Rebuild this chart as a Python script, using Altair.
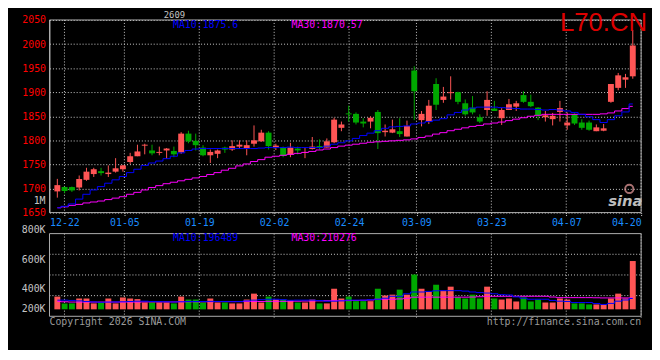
import json
import pandas as pd
import altair as alt

# ---------------- data ----------------
OPEN = [1694, 1703, 1703, 1702, 1718, 1730, 1736, 1730, 1735, 1740,
        1755, 1767, 1789, 1779, 1774, 1779, 1778, 1775, 1814, 1799,
        1785, 1769, 1772, 1785, 1781, 1787, 1783, 1793, 1798, 1816,
        1786, 1785, 1770, 1783, 1774, 1782, 1788, 1785, 1796, 1826,
        1856, 1855, 1839, 1839, 1859, 1817, 1816, 1819, 1808, 1945,
        1842, 1839, 1917, 1884, 1898, 1900, 1877, 1868, 1848, 1863,
        1866, 1846, 1863, 1870, 1894, 1880, 1868, 1848, 1844, 1859,
        1831, 1854, 1837, 1837, 1819, 1820, 1880, 1909, 1926, 1933]
HIGH = [1720, 1704, 1704, 1727, 1743, 1743, 1743, 1748, 1763, 1749,
        1774, 1791, 1793, 1791, 1787, 1784, 1787, 1817, 1820, 1814,
        1790, 1781, 1781, 1787, 1800, 1800, 1800, 1831, 1822, 1819,
        1793, 1787, 1795, 1787, 1785, 1807, 1802, 1804, 1847, 1839,
        1872, 1858, 1846, 1850, 1863, 1833, 1843, 1846, 1841, 1954,
        1861, 1884, 1929, 1911, 1933, 1901, 1885, 1892, 1854, 1902,
        1882, 1867, 1886, 1882, 1902, 1895, 1869, 1861, 1857, 1882,
        1858, 1856, 1844, 1841, 1833, 1834, 1917, 1940, 1938, 2029]
LOW = [1681, 1690, 1693, 1696, 1716, 1724, 1727, 1724, 1733, 1735,
       1751, 1767, 1771, 1769, 1769, 1762, 1765, 1772, 1794, 1779,
       1767, 1753, 1763, 1774, 1778, 1783, 1769, 1787, 1797, 1781,
       1780, 1765, 1765, 1771, 1763, 1781, 1781, 1785, 1794, 1819,
       1839, 1833, 1827, 1825, 1782, 1808, 1815, 1807, 1808, 1842,
       1829, 1834, 1863, 1878, 1885, 1875, 1851, 1854, 1836, 1851,
       1861, 1832, 1863, 1861, 1878, 1869, 1842, 1839, 1831, 1839,
       1822, 1832, 1822, 1820, 1819, 1819, 1878, 1904, 1909, 1928]
CLOSE = [1707, 1695, 1696, 1720, 1735, 1740, 1732, 1733, 1742, 1748,
         1767, 1777, 1791, 1773, 1776, 1783, 1771, 1814, 1798, 1790,
         1769, 1776, 1779, 1781, 1788, 1791, 1790, 1800, 1816, 1788,
         1789, 1768, 1785, 1779, 1776, 1787, 1785, 1798, 1843, 1833,
         1854, 1837, 1835, 1847, 1815, 1820, 1823, 1813, 1830, 1902,
         1855, 1872, 1874, 1891, 1900, 1880, 1854, 1858, 1839, 1884,
         1861, 1863, 1875, 1877, 1880, 1871, 1852, 1852, 1851, 1867,
         1837, 1835, 1826, 1822, 1827, 1825, 1917, 1935, 1931, 1997]
MA10 = [1660, 1663, 1668, 1678, 1688, 1697, 1704, 1711, 1718, 1725,
        1733, 1740, 1748, 1753, 1757, 1762, 1767, 1774, 1779, 1782,
        1783, 1783, 1783, 1783, 1783, 1783, 1783, 1783, 1784, 1785,
        1785, 1785, 1786, 1785, 1785, 1785, 1785, 1788, 1792, 1795,
        1799, 1804, 1810, 1815, 1820, 1825, 1828, 1829, 1830, 1834,
        1836, 1839, 1842, 1845, 1853, 1858, 1863, 1867, 1869, 1869,
        1869, 1868, 1867, 1866, 1865, 1865, 1864, 1863, 1864, 1863,
        1861, 1858, 1854, 1849, 1843, 1837, 1843, 1851, 1859, 1875.6]
MA30 = [1660, 1662, 1665, 1667, 1670, 1672, 1674, 1677, 1680, 1683,
        1688, 1692, 1697, 1702, 1706, 1710, 1713, 1716, 1719, 1722,
        1725, 1729, 1733, 1738, 1742, 1747, 1751, 1756, 1760, 1765,
        1767, 1769, 1771, 1773, 1775, 1777, 1780, 1782, 1785, 1788,
        1790, 1792, 1794, 1796, 1797, 1798, 1799, 1800, 1801, 1803,
        1806, 1809, 1813, 1816, 1820, 1823, 1826, 1829, 1831, 1834,
        1836, 1838, 1841, 1844, 1847, 1850, 1852, 1854, 1854, 1854,
        1854, 1854, 1854, 1854, 1854, 1855, 1857, 1861, 1866, 1870.57]
VOLUME_K = [351, 305, 305, 338, 338, 305, 311, 338, 305, 345,
            338, 334, 311, 311, 311, 311, 305, 351, 331, 331,
            311, 338, 311, 311, 305, 305, 331, 371, 311, 351,
            331, 331, 324, 311, 311, 331, 305, 305, 404, 338,
            351, 320, 320, 320, 404, 358, 364, 398, 364, 500,
            404, 382, 431, 391, 418, 345, 338, 364, 338, 418,
            338, 331, 338, 318, 345, 318, 331, 311, 311, 338,
            331, 305, 305, 298, 298, 298, 338, 371, 338, 591]
VMA10 = [327, 327, 325, 322, 318, 315, 313, 314, 315, 316,
         318, 320, 320, 318, 317, 316, 315, 316, 318, 318,
         318, 319, 318, 318, 317, 318, 322, 327, 330, 333,
         333, 330, 326, 327, 327, 327, 324, 320, 320, 322,
         327, 327, 327, 330, 333, 340, 353, 353, 370, 382,
         382, 386, 390, 391, 391, 391, 388, 382, 378, 375,
         370, 364, 362, 349, 340, 333, 333, 333, 325, 320,
         318, 311, 311, 311, 304, 298, 305, 320, 328, 338]
VMA30 = [318, 316, 314, 314, 314, 314, 314, 314, 314, 314,
         314, 314, 315, 315, 315, 315, 315, 316, 316, 316,
         316, 316, 317, 317, 317, 317, 318, 318, 318, 319,
         319, 319, 320, 320, 321, 321, 322, 323, 324, 324,
         324, 325, 326, 328, 333, 333, 333, 335, 340, 347,
         347, 347, 347, 347, 347, 347, 347, 348, 350, 353,
         353, 353, 353, 353, 353, 353, 353, 353, 348, 344,
         344, 344, 344, 344, 343, 342, 342, 342, 342, 342]

DATE_POS = [2, 10, 20, 30, 40, 49, 59, 69, 79]
DATE_LABELS = ["12-22", "01-05", "01-19", "02-02", "02-24",
               "03-09", "03-23", "04-07", "04-20"]
PRICE_TICKS = [1650, 1700, 1750, 1800, 1850, 1900, 1950, 2000, 2050]
VOL_TICKS = [800, 600, 400, 200]
VOL_TICK_LABELS = ["800K", "600K", "400K", "200K"]

# ---------------- style / geometry ----------------
MONO = "DejaVu Sans Mono"
RED, GREEN = "#ff5555", "#00a800"
BLUE, MAGENTA = "#0000ff", "#ff00ff"
GRID, BORDER, GRAYTXT = "#cfcfcf", "#b0b0b0", "#c4c4c4"
W, H = 599, 300          # whole plot area (both panels)
PH = 195                 # price panel height
VTOP, VBOT = 216.3, 300  # volume panel vertical extent
VOL_LO, VOL_HI, VOL_BASE = 218, 776, 265

n = len(CLOSE)
df = pd.DataFrame({"i": list(range(n)), "open": OPEN, "high": HIGH, "low": LOW,
                   "close": CLOSE, "vol": VOLUME_K, "ma10": MA10, "ma30": MA30,
                   "vma10": VMA10, "vma30": VMA30})
df["dir"] = ["up" if c >= o else "down" for o, c in zip(OPEN, CLOSE)]

color = alt.Color("dir:N", scale=alt.Scale(domain=["up", "down"], range=[RED, GREEN]), legend=None)
xc = alt.X("i:Q", scale=alt.Scale(domain=[-0.4, 79.47], nice=False, zero=False), axis=None)
price_scale = alt.Scale(domain=[1650, 2050], range=[PH, 0], nice=False, zero=False)
price_axis = alt.Axis(values=PRICE_TICKS, orient="left", format="d", grid=True, gridColor=GRID,
                      gridDash=[1, 2], gridWidth=1, ticks=False, tickSize=0,
                      labelPadding=4, labelColor="#ff0000", labelFont=MONO,
                      labelFontSize=10, domain=True, domainColor=BORDER, title=None)
vol_scale = alt.Scale(domain=[VOL_LO, VOL_HI], range=[VBOT, VTOP], nice=False, zero=False)

# ---------- vertical grid + date axis ----------
dates = pd.DataFrame({"pos": DATE_POS, "lab": DATE_LABELS})
label_expr = f"{json.dumps(DATE_LABELS)}[indexof({json.dumps(DATE_POS)}, datum.value)]"
date_axis = alt.Axis(values=DATE_POS, orient="bottom", offset=-(H - PH), domain=False,
                     grid=False, ticks=True, tickSize=3, tickColor=GRID, tickDash=[1, 1],
                     labelExpr=label_expr, labelColor="#1a8cff", labelFont=MONO,
                     labelFontSize=10, labelPadding=2, labelFlush=True, title=None)
xg = alt.X("pos:Q", scale=alt.Scale(domain=[0, 79], nice=False, zero=False), axis=date_axis)
grid_price = alt.Chart(dates).mark_rule(color=GRID, strokeDash=[1, 2], strokeWidth=1).encode(
    x=xg, y=alt.value(0), y2=alt.value(PH))
grid_vol = alt.Chart(dates).mark_rule(color=GRID, strokeDash=[1, 2], strokeWidth=1).encode(
    x=xg, y=alt.value(VTOP), y2=alt.value(VBOT + 3))
grid_layer = alt.layer(grid_price, grid_vol)

# ---------- price panel ----------
py = lambda f: alt.Y(f, scale=price_scale, axis=price_axis)
wick = alt.Chart(df).mark_rule(strokeWidth=1).encode(x=xc, y=py("low:Q"), y2="high:Q", color=color)
body = alt.Chart(df).mark_bar(width=6).encode(x=xc, y=py("open:Q"), y2="close:Q", color=color)
ma10 = alt.Chart(df).mark_line(color=BLUE, strokeWidth=1, interpolate="step").encode(x=xc, y=py("ma10:Q"))
ma30 = alt.Chart(df).mark_line(color=MAGENTA, strokeWidth=1, interpolate="step").encode(x=xc, y=py("ma30:Q"))
price_layer = alt.layer(wick, body, ma30, ma10)

# ---------- volume panel ----------
vy = lambda f: alt.Y(f, scale=vol_scale, axis=None)
vgrid = pd.DataFrame({"g": [VOL_LO + (VOL_HI - VOL_LO) * k / 4 for k in (1, 2, 3)]})
vgrid_rule = alt.Chart(vgrid).mark_rule(color=GRID, strokeDash=[1, 2], strokeWidth=1).encode(
    y=vy("g:Q"), x=alt.value(0), x2=alt.value(W))
vbar = alt.Chart(df).mark_bar(width=6).encode(x=xc, y=vy("vol:Q"), y2=alt.datum(VOL_BASE), color=color)
vma10 = alt.Chart(df).mark_line(color=BLUE, strokeWidth=1, interpolate="step").encode(x=xc, y=vy("vma10:Q"))
vma30 = alt.Chart(df).mark_line(color=MAGENTA, strokeWidth=1, interpolate="step").encode(x=xc, y=vy("vma30:Q"))
vlab = alt.Chart(pd.DataFrame({"v": VOL_TICKS, "lab": VOL_TICK_LABELS})).transform_calculate(
    vy=f"max(datum.v, {VOL_BASE})"
).mark_text(align="right", baseline="middle", font=MONO, fontSize=10, color=GRAYTXT).encode(
    x=alt.value(-4), y=vy("vy:Q"), text="lab:N")
vol_layer = alt.layer(vgrid_rule, vbar, vma30, vma10, vlab)

# ---------- decorations ----------
ONE = pd.DataFrame({"a": [0]})


def label(txt, x, y, col, size=10, align="left", font=MONO, baseline="middle", **kw):
    return alt.Chart(ONE).mark_text(text=txt, align=align, baseline=baseline, font=font,
                                    fontSize=size, color=col, **kw).encode(
        x=alt.value(x), y=alt.value(y))


box_price = alt.Chart(ONE).mark_rect(filled=False, stroke=BORDER, strokeWidth=1).encode(
    x=alt.value(0), x2=alt.value(W), y=alt.value(0), y2=alt.value(PH))
box_vol = alt.Chart(ONE).mark_rect(filled=False, stroke=BORDER, strokeWidth=1).encode(
    x=alt.value(0), x2=alt.value(W), y=alt.value(VTOP), y2=alt.value(VBOT))

decos = [
    box_price, box_vol,
    label("2609", 126.5, -5, GRAYTXT, size=9, align="center"),
    label("L70.CN", 605, 11, "#dd0000", size=26, align="right", font="Liberation Sans",
          baseline="alphabetic"),
    label("MA10:1875.6", 125, 5, BLUE),
    label("MA30:1870.57", 245, 5, MAGENTA),
    label("1M", -4, 183, GRAYTXT, align="right"),
    label("MA10:196489", 125, 220.5, BLUE),
    label("MA30:210276", 245, 220.5, MAGENTA),
    label("Copyright 2026 SINA.COM", 0, 305.5, "#9a9a9a"),
    label("http://finance.sina.com.cn", W, 305.5, "#9a9a9a", align="right"),
    label("sina", 583, 183, "#bdbdbd", size=15, align="center", font="DejaVu Sans",
          fontWeight="bold", fontStyle="italic"),
    alt.Chart(ONE).mark_point(shape="circle", filled=False, color="#f0a0a0", strokeWidth=2,
                              size=70).encode(x=alt.value(587), y=alt.value(171)),
]

chart = alt.layer(grid_layer, price_layer, vol_layer, *decos).resolve_scale(
    x="independent", y="independent"
).properties(
    width=W, height=H,
    autosize=alt.AutoSizeParams(type="none"),
    padding={"left": 42, "top": 10, "right": 11, "bottom": 32},
    background="black",
).configure_view(stroke=None)

chart.save("out.html", embed_options={"renderer": "svg", "actions": False})
